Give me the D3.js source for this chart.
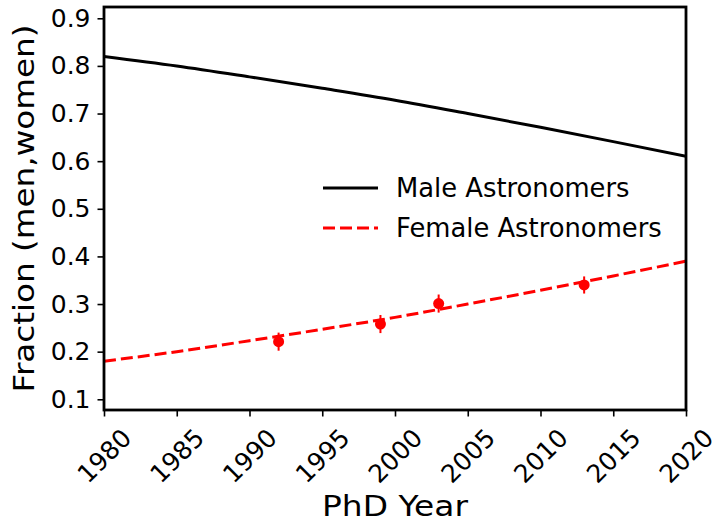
<!DOCTYPE html>
<html>
<head>
<meta charset="utf-8">
<script src="https://cdn.jsdelivr.net/npm/d3@7"></script>
<style>
  html, body { margin: 0; padding: 0; background: #fff; }
  svg { display: block; }
  text { font-family: "DejaVu Sans", sans-serif; fill: #000; }
</style>
</head>
<body>
<svg id="chart" width="712" height="521"></svg>
<script>
// ---- data ----
const years = [1980, 1985, 1990, 1995, 2000, 2005, 2010, 2015, 2020];
const maleFraction = [0.820, 0.800, 0.777, 0.753, 0.728, 0.700, 0.671, 0.641, 0.610];
const femaleFraction = [0.180, 0.200, 0.223, 0.247, 0.272, 0.300, 0.329, 0.359, 0.390];
const obsYears = [1992, 1999, 2003, 2013];
const obsValues = [0.221, 0.258, 0.301, 0.340];
const obsErrors = [0.019, 0.019, 0.019, 0.018];
const xTicks = [1980, 1985, 1990, 1995, 2000, 2005, 2010, 2015, 2020];
const yTicks = [0.1, 0.2, 0.3, 0.4, 0.5, 0.6, 0.7, 0.8, 0.9];
const seriesNames = ["Male Astronomers", "Female Astronomers"];

// ---- layout ----
const svg = d3.select("#chart");
const pLeft = 104, pRight = 686, pTop = 7, pBottom = 410;

const x = d3.scaleLinear().domain([1980, 2020]).range([pLeft, pRight]);
const y = d3.scaleLinear().domain([0.0775, 0.9237]).range([pBottom, pTop]);

svg.append("defs").append("clipPath").attr("id", "clip")
  .append("rect").attr("x", pLeft).attr("y", pTop)
  .attr("width", pRight - pLeft).attr("height", pBottom - pTop);

const plot = svg.append("g").attr("clip-path", "url(#clip)");

const line = d3.line().x(d => x(d[0])).y(d => y(d[1])).curve(d3.curveMonotoneX);

plot.append("path")
  .datum(years.map((yr, i) => [yr, maleFraction[i]]))
  .attr("d", line).attr("fill", "none")
  .attr("stroke", "#000").attr("stroke-width", 3);

plot.append("path")
  .datum(years.map((yr, i) => [yr, femaleFraction[i]]))
  .attr("d", line).attr("fill", "none")
  .attr("stroke", "#ff0000").attr("stroke-width", 3)
  .attr("stroke-dasharray", "12,5");

// error bars and points
const obs = obsYears.map((yr, i) => ({yr, v: obsValues[i], e: obsErrors[i]}));
plot.selectAll("line.err").data(obs).enter().append("line")
  .attr("class", "err")
  .attr("x1", d => x(d.yr)).attr("x2", d => x(d.yr))
  .attr("y1", d => y(d.v - d.e)).attr("y2", d => y(d.v + d.e))
  .attr("stroke", "#ff0000").attr("stroke-width", 2);
plot.selectAll("circle.pt").data(obs).enter().append("circle")
  .attr("class", "pt")
  .attr("cx", d => x(d.yr)).attr("cy", d => y(d.v)).attr("r", 5.5)
  .attr("fill", "#ff0000");

// axes
const yAxis = d3.axisLeft(y).tickValues(yTicks).tickSize(6.5).tickPadding(7)
  .tickFormat(d3.format(".1f"));
const gy = svg.append("g").attr("transform", `translate(${pLeft},0)`).call(yAxis);
gy.select(".domain").remove();
gy.selectAll(".tick line").attr("stroke", "#000").attr("stroke-width", 1.6);
gy.selectAll(".tick text").attr("font-size", 25).attr("font-family", "DejaVu Sans").attr("fill", "#000");

const xAxis = d3.axisBottom(x).tickValues(xTicks).tickSize(6.5).tickFormat(d3.format("d"));
const gx = svg.append("g").attr("transform", `translate(0,${pBottom})`).call(xAxis);
gx.select(".domain").remove();
gx.selectAll(".tick line").attr("stroke", "#000").attr("stroke-width", 1.6);
gx.selectAll(".tick text")
  .attr("font-size", 25).attr("font-family", "DejaVu Sans").attr("fill", "#000")
  .attr("text-anchor", "middle").attr("dominant-baseline", "central")
  .attr("dy", null).attr("y", 46)
  .attr("transform", "rotate(-45, 0, 46)");

// frame
svg.append("rect").attr("x", pLeft).attr("y", pTop)
  .attr("width", pRight - pLeft).attr("height", pBottom - pTop)
  .attr("fill", "none").attr("stroke", "#000").attr("stroke-width", 2.8);

// axis labels
svg.append("text").attr("x", (pLeft + pRight) / 2).attr("y", 516)
  .attr("text-anchor", "middle").attr("font-size", 28)
  .attr("textLength", 146).attr("lengthAdjust", "spacingAndGlyphs")
  .text("PhD Year");
svg.append("text")
  .attr("transform", `translate(34, ${(pTop + pBottom) / 2}) rotate(-90)`)
  .attr("text-anchor", "middle").attr("font-size", 28)
  .attr("textLength", 368).attr("lengthAdjust", "spacingAndGlyphs")
  .text("Fraction (men,women)");

// legend
const legend = svg.append("g");
legend.append("line").attr("x1", 323).attr("x2", 378).attr("y1", 188).attr("y2", 188)
  .attr("stroke", "#000").attr("stroke-width", 3);
legend.append("line").attr("x1", 323).attr("x2", 378).attr("y1", 228).attr("y2", 228)
  .attr("stroke", "#ff0000").attr("stroke-width", 3).attr("stroke-dasharray", "12,5");
legend.append("text").attr("x", 396).attr("y", 197).attr("font-size", 25.8).text(seriesNames[0]);
legend.append("text").attr("x", 396).attr("y", 237).attr("font-size", 25.8).text(seriesNames[1]);
</script>
</body>
</html>
